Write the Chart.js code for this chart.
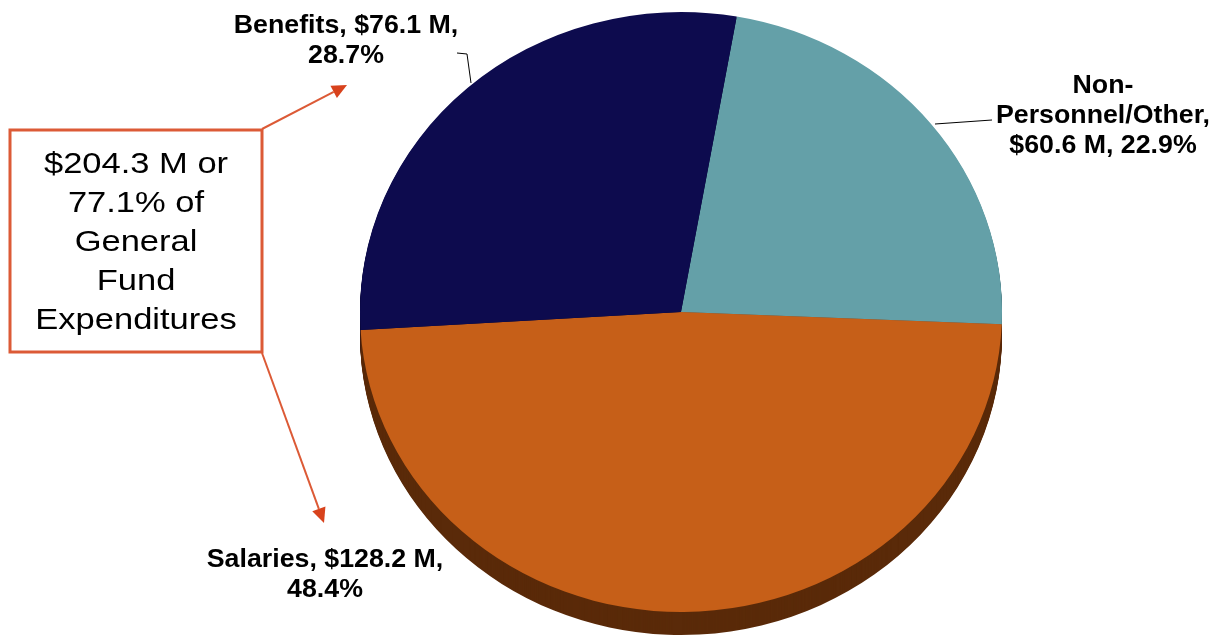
<!DOCTYPE html>
<html>
<head>
<meta charset="utf-8">
<script src="https://cdn.jsdelivr.net/npm/chart.js@4/dist/chart.umd.min.js"></script>
<style>
  html, body { margin: 0; padding: 0; background: #fff; }
  #wrap { width: 1214px; height: 637px; position: relative; }
</style>
</head>
<body>
<div id="wrap"><canvas id="miGrafica"></canvas></div>
<script>
// Datos del gráfico
const categorias = ['Non-Personnel/Other', 'Salaries', 'Benefits'];
const montos = [60.6, 128.2, 76.1];      // millones de $
const porcentajes = [22.9, 48.4, 28.7];
const totalPersonal = 204.3;
const pctPersonal = 77.1;

const colores = ['#64a0a8', '#c65f18', '#0d0b4e'];
const coloresLado = ['#3b6369', '#5a2a09', '#06052a'];

// etiquetas: texto en líneas, y posición en pantalla
const etiquetas = [
  { lineas: ['Non-', 'Personnel/Other,', '$' + montos[0].toFixed(1) + ' M, ' + porcentajes[0] + '%'], x: 1103, y: 93 },
  { lineas: ['Salaries, $' + montos[1].toFixed(1) + ' M,', porcentajes[1] + '%'], x: 325, y: 567 },
  { lineas: ['Benefits, $' + montos[2].toFixed(1) + ' M,', porcentajes[2] + '%'], x: 346, y: 33 }
];

const escalaX = 1.07;
const profundidad = 23;

// texto estirado en horizontal (la imagen original está algo ensanchada)
function texto(ctx, t, x, y, sx) {
  ctx.save();
  ctx.translate(x, y);
  ctx.scale(sx, 1);
  ctx.fillText(t, 0, 0);
  ctx.restore();
}

// Plugin: aplasta la torta en elipse y dibuja el borde 3D
const torta3D = {
  id: 'torta3D',
  beforeDatasetsDraw(chart) {
    const ctx = chart.ctx;
    const arcos = chart.getDatasetMeta(0).data;
    const cx = arcos[0].x, cy = arcos[0].y;
    ctx.save();
    ctx.translate(cx, cy);
    ctx.scale(escalaX, 1);
    ctx.translate(-cx, -cy);
    for (let d = profundidad; d >= 1; d--) {
      arcos.forEach((a, i) => {
        ctx.beginPath();
        ctx.moveTo(a.x, a.y + d);
        ctx.arc(a.x, a.y + d, a.outerRadius, a.startAngle, a.endAngle);
        ctx.closePath();
        ctx.fillStyle = coloresLado[i];
        ctx.fill();
      });
    }
  },
  afterDatasetsDraw(chart) {
    chart.ctx.restore();
  },
  afterDraw(chart) {
    const ctx = chart.ctx;
    ctx.save();
    // textos de las porciones
    ctx.fillStyle = '#000';
    ctx.font = 'bold 25px "Liberation Sans", Arial, sans-serif';
    ctx.textAlign = 'center';
    ctx.textBaseline = 'alphabetic';
    etiquetas.forEach(e => {
      e.lineas.forEach((l, k) => texto(ctx, l, e.x, e.y + k * 30, 1.07));
    });

    // líneas guía
    ctx.strokeStyle = '#000';
    ctx.lineWidth = 1;
    ctx.beginPath();
    ctx.moveTo(457, 53); ctx.lineTo(467, 54); ctx.lineTo(471, 83);
    ctx.moveTo(992, 120); ctx.lineTo(935, 124);
    ctx.stroke();

    // caja de texto
    const naranja = '#dc5a36';
    ctx.fillStyle = '#fff';
    ctx.fillRect(10, 130, 252, 222);
    ctx.strokeStyle = naranja;
    ctx.lineWidth = 3;
    ctx.strokeRect(10, 130, 252, 222);
    ctx.fillStyle = '#000';
    ctx.font = '30px "Liberation Sans", Arial, sans-serif';
    const caja = ['$' + totalPersonal + ' M or', pctPersonal + '% of', 'General', 'Fund', 'Expenditures'];
    caja.forEach((l, k) => texto(ctx, l, 136, 173 + k * 39, 1.15));

    // flechas
    function flecha(x1, y1, x2, y2) {
      const ang = Math.atan2(y2 - y1, x2 - x1);
      const largo = 15, ancho = 7;
      const bx = x2 - largo * Math.cos(ang), by = y2 - largo * Math.sin(ang);
      ctx.strokeStyle = naranja;
      ctx.lineWidth = 2;
      ctx.beginPath();
      ctx.moveTo(x1, y1); ctx.lineTo(bx, by);
      ctx.stroke();
      ctx.fillStyle = '#d8421c';
      ctx.beginPath();
      ctx.moveTo(x2, y2);
      ctx.lineTo(bx + ancho * Math.sin(ang), by - ancho * Math.cos(ang));
      ctx.lineTo(bx - ancho * Math.sin(ang), by + ancho * Math.cos(ang));
      ctx.closePath();
      ctx.fill();
    }
    flecha(262, 129, 347, 85);
    flecha(262, 353, 324, 523);
    ctx.restore();
  }
};

const ctx = document.getElementById('miGrafica').getContext('2d');
new Chart(ctx, {
  type: 'pie',
  data: {
    labels: categorias,
    datasets: [{
      data: montos,
      backgroundColor: colores,
      borderWidth: 0
    }]
  },
  options: {
    responsive: true,
    maintainAspectRatio: false,
    animation: false,
    rotation: 10,
    layout: { padding: { left: 381, right: 233, top: 12, bottom: 25 } },
    plugins: {
      legend: { display: false },
      tooltip: { enabled: false }
    }
  },
  plugins: [torta3D]
});
</script>
</body>
</html>
